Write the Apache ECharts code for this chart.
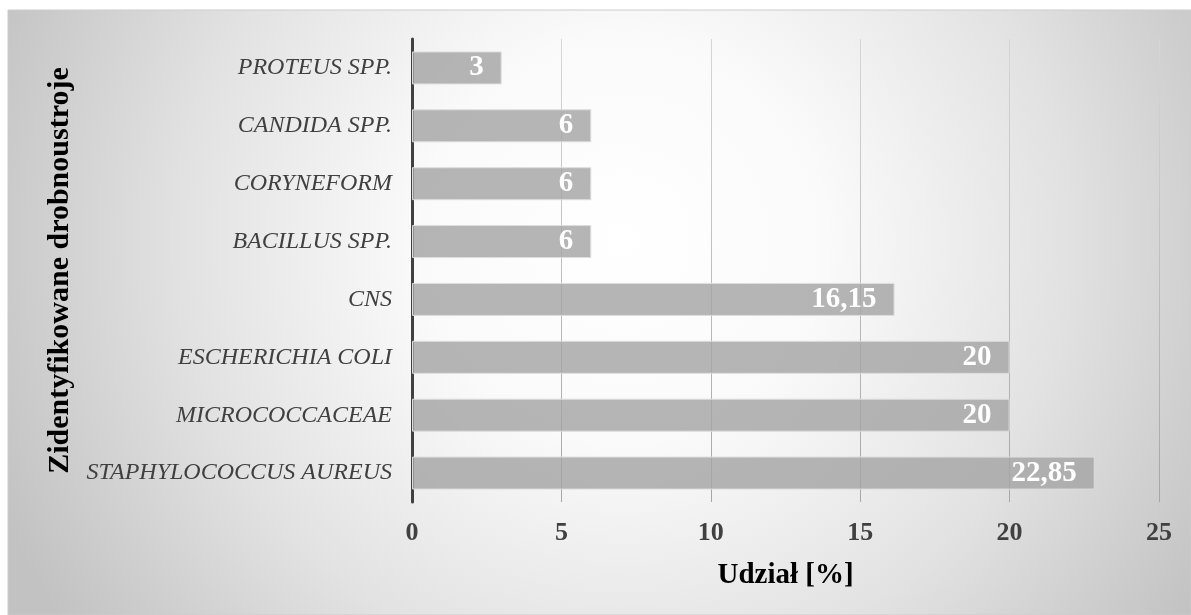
<!DOCTYPE html>
<html>
<head>
<meta charset="utf-8">
<script src="https://cdn.jsdelivr.net/npm/echarts@6/dist/echarts.min.js"></script>
<style>
  html, body { margin: 0; padding: 0; background: #ffffff; }
  #chart { width: 1191px; height: 615px; }
</style>
</head>
<body>
<div id="chart"></div>
<script>
// Identified microorganisms and their share (%)
const categories = [
  'PROTEUS SPP.',
  'CANDIDA SPP.',
  'CORYNEFORM',
  'BACILLUS SPP.',
  'CNS',
  'ESCHERICHIA COLI',
  'MICROCOCCACEAE',
  'STAPHYLOCOCCUS AUREUS'
];
const shares = [3, 6, 6, 6, 16.15, 20, 20, 22.85];
const xTicks = [0, 5, 10, 15, 20, 25];

const serif = '"Liberation Serif", "Times New Roman", "DejaVu Serif", serif';

const chart = echarts.init(document.getElementById('chart'), null, { renderer: 'canvas' });

chart.setOption({
  animation: false,
  backgroundColor: '#ffffff',
  graphic: [{
    type: 'rect',
    z: -100,
    silent: true,
    shape: { x: 8, y: 10, width: 1183, height: 605 },
    style: {
      fill: {
        type: 'radial', x: 0.52, y: 0.38, r: 1.12,
        colorStops: [
          { offset: 0, color: '#ffffff' },
          { offset: 0.3, color: '#fafafa' },
          { offset: 0.65, color: '#e2e2e2' },
          { offset: 1, color: '#c2c2c2' }
        ]
      },
      stroke: '#cccccc',
      lineWidth: 1
    }
  }],
  grid: { left: 412, right: 32, top: 39, bottom: 113, containLabel: false },
  xAxis: {
    type: 'value',
    min: xTicks[0],
    max: xTicks[xTicks.length - 1],
    interval: xTicks[1] - xTicks[0],
    name: 'Udział [%]',
    nameLocation: 'middle',
    nameGap: 59,
    nameTextStyle: { fontFamily: serif, fontWeight: 'bold', fontSize: 29, color: '#000000' },
    axisLine: { show: false },
    axisTick: { show: false },
    axisLabel: { margin: 18, fontFamily: serif, fontWeight: 'bold', fontSize: 26, color: '#404040' },
    splitLine: {
      show: true,
      lineStyle: {
        width: 1,
        color: {
          type: 'linear', global: true, x: 0, y: 39, x2: 0, y2: 502,
          colorStops: [
            { offset: 0, color: '#d6d6d6' },
            { offset: 1, color: '#a6a6a6' }
          ]
        }
      }
    }
  },
  yAxis: {
    type: 'category',
    data: categories,
    inverse: true,
    name: 'Zidentyfikowane drobnoustroje',
    nameLocation: 'middle',
    nameRotate: 90,
    nameGap: 335,
    nameTextStyle: { fontFamily: serif, fontWeight: 'bold', fontSize: 30, color: '#000000' },
    axisLine: { show: true, lineStyle: { color: '#404040', width: 3 } },
    axisTick: { show: false },
    axisLabel: { margin: 20, fontFamily: serif, fontStyle: 'italic', fontSize: 24, color: '#404040' }
  },
  series: [{
    type: 'bar',
    data: shares,
    barCategoryGap: '43%',
    itemStyle: {
      color: 'rgba(165,165,165,0.82)',
      borderColor: '#dddddd',
      borderWidth: 1
    },
    label: {
      show: true,
      position: 'insideRight',
      distance: 18,
      fontFamily: serif,
      fontWeight: 'bold',
      fontSize: 29,
      color: '#ffffff',
      formatter: p => String(p.value).replace('.', ',')
    }
  }]
});
</script>
</body>
</html>
